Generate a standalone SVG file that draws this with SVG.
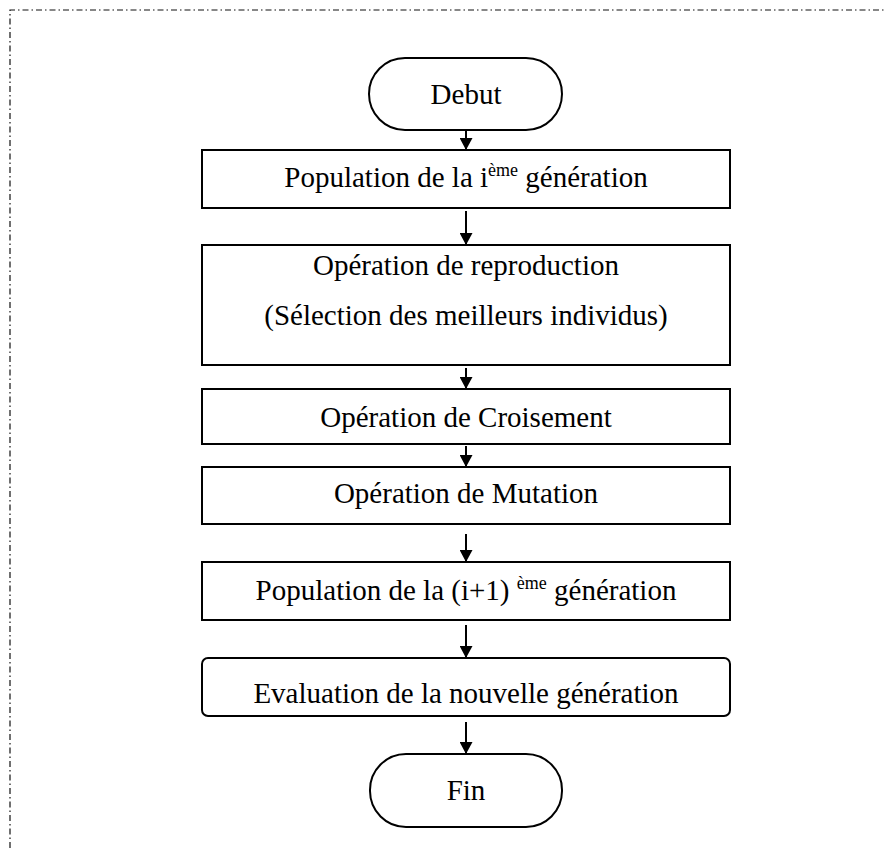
<svg xmlns="http://www.w3.org/2000/svg" width="885" height="848" viewBox="0 0 885 848">
  <defs>
    <marker id="arrow" markerWidth="14" markerHeight="13" refX="13" refY="7" orient="auto" markerUnits="userSpaceOnUse" viewBox="0 0 13 14">
      <path d="M0,0 L13,7 L0,14 Z" fill="#000"/>
    </marker>
    <style>
      .frame { fill: none; stroke: #111; stroke-width: 1.2; stroke-dasharray: 6 3 1.5 3; }
      .box { fill: #fff; stroke: #000; stroke-width: 2; }
      .lbl { font-family: "Liberation Serif", "Times New Roman", serif; font-size: 29px; fill: #000; text-anchor: middle; }
      .sup { font-size: 18px; }
      .conn { stroke: #000; stroke-width: 2; fill: none; marker-end: url(#arrow); }
    </style>
  </defs>
  <rect width="885" height="848" fill="#fff"/>

  <!-- dash-dot frame around the flowchart -->
  <path class="frame" d="M10,848 L10,10 L885,10"/>

  <g id="connectors">
    <line class="conn" x1="466" y1="130" x2="466" y2="150"/>
    <line class="conn" x1="466" y1="211" x2="466" y2="245"/>
    <line class="conn" x1="466" y1="368" x2="466" y2="389"/>
    <line class="conn" x1="466" y1="446" x2="466" y2="467"/>
    <line class="conn" x1="466" y1="534" x2="466" y2="562"/>
    <line class="conn" x1="466" y1="625" x2="466" y2="658"/>
    <line class="conn" x1="466" y1="722" x2="466" y2="754"/>
  </g>

  <g id="debut">
    <rect class="box" x="369" y="58" width="193" height="72" rx="36" ry="36"/>
    <text class="lbl" x="466" y="104">Debut</text>
  </g>

  <g id="population-i">
    <rect class="box" x="202" y="150" width="528" height="58"/>
    <text class="lbl" x="466" y="187">Population de la i<tspan class="sup" dy="-11">ème</tspan><tspan dy="11"> génération</tspan></text>
  </g>

  <g id="reproduction">
    <rect class="box" x="202" y="245" width="528" height="120"/>
    <text class="lbl" x="466" y="275">Opération de reproduction</text>
    <text class="lbl" x="466" y="325">(Sélection des meilleurs individus)</text>
  </g>

  <g id="croisement">
    <rect class="box" x="202" y="389" width="528" height="55"/>
    <text class="lbl" x="466" y="427">Opération de Croisement</text>
  </g>

  <g id="mutation">
    <rect class="box" x="202" y="467" width="528" height="57"/>
    <text class="lbl" x="466" y="503">Opération de Mutation</text>
  </g>

  <g id="population-i1">
    <rect class="box" x="202" y="562" width="528" height="58"/>
    <text class="lbl" x="466" y="600">Population de la (i+1) <tspan class="sup" dy="-11">ème</tspan><tspan dy="11"> génération</tspan></text>
  </g>

  <g id="evaluation">
    <rect class="box" x="202" y="658" width="528" height="58" rx="6" ry="6"/>
    <text class="lbl" x="466" y="703">Evaluation de la nouvelle génération</text>
  </g>

  <g id="fin">
    <rect class="box" x="370" y="754" width="192" height="73" rx="36" ry="36"/>
    <text class="lbl" x="466" y="800">Fin</text>
  </g>
</svg>
